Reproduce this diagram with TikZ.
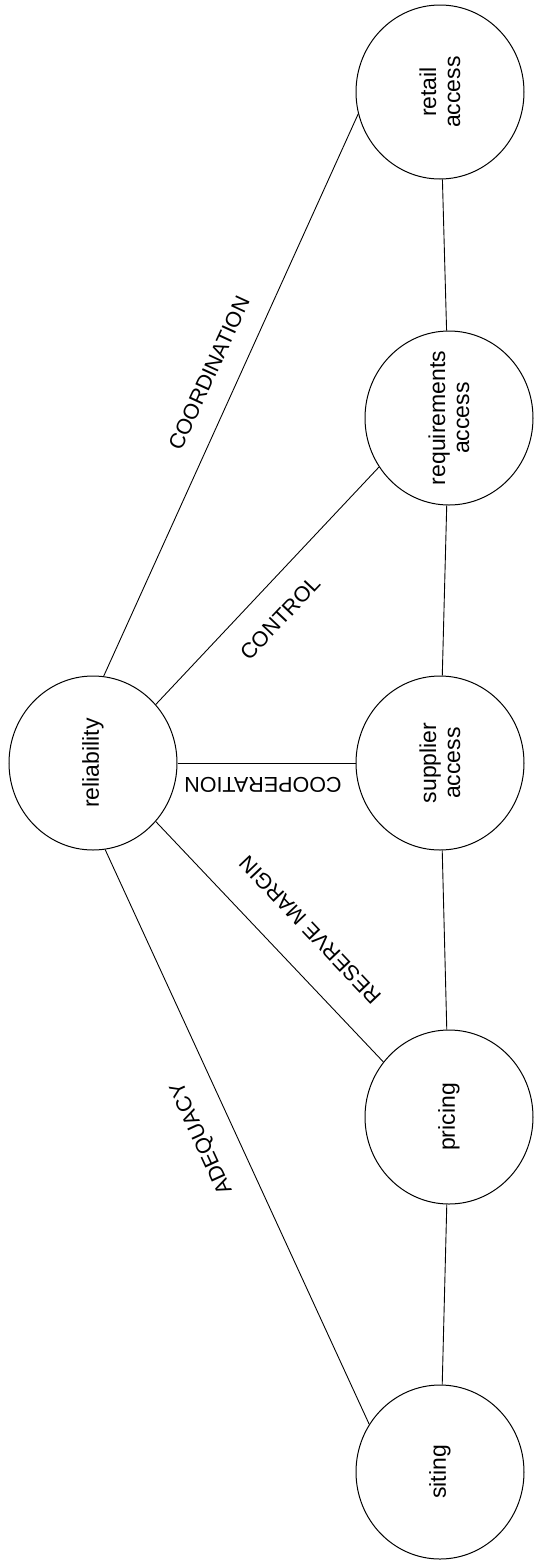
\documentclass[tikz,border=0pt]{standalone}
\usepackage{fontspec}
\setmainfont{Liberation Sans}
\usetikzlibrary{shapes.geometric}
\begin{document}
\begin{tikzpicture}[x=1pt,y=-1pt,
  circ/.style={ellipse, draw, line width=1pt, minimum width=168pt, minimum height=174pt, inner sep=0pt},
  nlab/.style={font=\fontsize{23}{24}\selectfont, align=center, inner sep=0pt},
  elab/.style={font=\fontsize{21.5}{24}\selectfont, inner sep=0pt},
  conn/.style={line width=0.9pt}]
\useasboundingbox (0,0) rectangle (534,1564);
% circles
\node[circ] (rel) at (93,763) {};
\node[circ] (ret) at (440,92) {};
\node[circ] (req) at (449,418) {};
\node[circ] (sup) at (440,763) {};
\node[circ] (pri) at (449,1117) {};
\node[circ] (sit) at (440,1472) {};
% circle texts
\node[nlab, rotate=90] (relt) at (rel) {reliability};
\node[nlab, rotate=90] (rett) at (ret) {retail\\access};
\node[nlab, rotate=90] (reqt) at (req) {requirements\\access};
\node[nlab, rotate=90] (supt) at (sup) {supplier\\access};
\node[nlab, rotate=90] (prit) at (pri) {pricing};
\node[nlab, rotate=90] (sitt) at (sit) {siting};
% connectors
\draw[conn] (rel.83.4) -- (ret.195);
\draw[conn] (rel.43.2) -- (req.215);
\draw[conn] (rel.0) -- (sup.180);
\draw[conn] (rel.-43.6) -- (pri.140);
\draw[conn] (rel.-82.6) -- (sit.146);
\draw[conn] (ret) -- (req);
\draw[conn] (req) -- (sup);
\draw[conn] (sup) -- (pri);
\draw[conn] (pri) -- (sit);
% edge labels
\node[elab, rotate=65.3] (lcoord) at (209,373) {COORDINATION};
\node[elab, rotate=46.6] (lcontrol) at (280,618) {CONTROL};
\node[elab, rotate=180] (lcoop) at (263,785) {COOPERATION};
\node[elab, rotate=133.5] (lreserve) at (310,930) {RESERVE MARGIN};
\node[elab, rotate=114.7] (ladeq) at (202,1138) {ADEQUACY};
\end{tikzpicture}
\end{document}
